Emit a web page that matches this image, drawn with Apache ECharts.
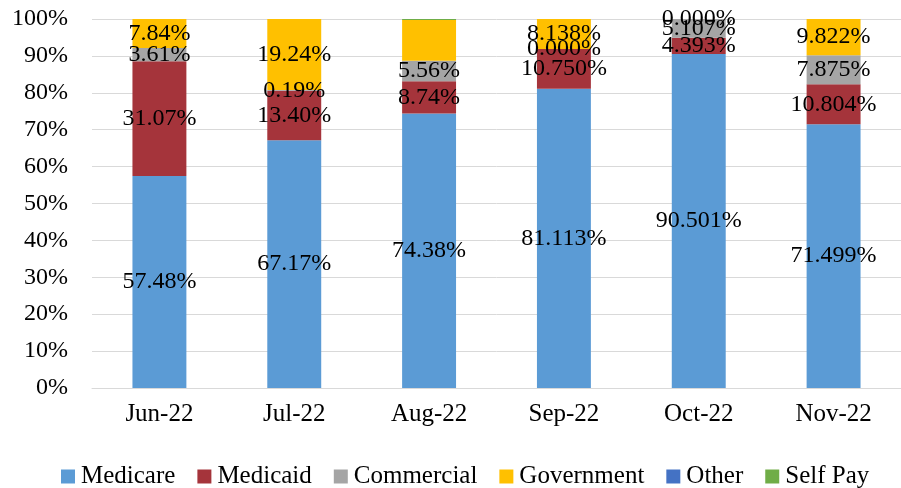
<!DOCTYPE html>
<html>
<head>
<meta charset="utf-8">
<script src="https://cdn.jsdelivr.net/npm/echarts@6/dist/echarts.min.js"></script>
<style>
html,body{margin:0;padding:0;background:#fff;}
#chart{width:901px;height:488px;}
</style>
</head>
<body>
<div id="chart"></div>
<script>
const categories = ['Jun-22','Jul-22','Aug-22','Sep-22','Oct-22','Nov-22'];
const medicare   = [57.48, 67.17, 74.38, 81.113, 90.501, 71.499];
const medicaid   = [31.07, 13.40, 8.74, 10.750, 4.393, 10.804];
const commercial = [3.61, 0.19, 5.56, 0.000, 5.107, 7.875];
const government = [7.84, 19.24, 11.02, 8.138, 0.000, 9.822];
const other      = [0, 0, 0, 0, 0, 0];
const selfPay    = [0, 0, 0.30, 0, 0, 0];
const labelDecimals = [2, 2, 2, 3, 3, 3];
const governmentLabelShown = [true, true, false, true, true, true];
const yTickLabels = ['0%','10%','20%','30%','40%','50%','60%','70%','80%','90%','100%'];

const FONT = 'Liberation Serif';
const FS = 24;

function fmt(p){ return p.value.toFixed(labelDecimals[p.dataIndex]) + '%'; }

function makeSeries(name, values, color, showLabel, shownMask){
  return {
    name: name,
    type: 'bar',
    stack: 'total',
    barWidth: '40%',
    clip: false,
    itemStyle: {color: color},
    label: {
      show: showLabel,
      position: 'inside',
      color: '#000',
      fontFamily: FONT,
      fontSize: FS,
      formatter: fmt
    },
    data: values.map((v, i) => (shownMask && !shownMask[i]) ? {value: v, label: {show: false}} : v)
  };
}

const chart = echarts.init(document.getElementById('chart'), null, {renderer: 'canvas'});
chart.setOption({
  animation: false,
  backgroundColor: '#fff',
  textStyle: {fontFamily: FONT},
  grid: {left: 92, top: 19, width: 813, height: 369, containLabel: false},
  legend: {
    left: 56, top: 459,
    padding: 5,
    itemWidth: 14, itemHeight: 14, itemGap: 22,
    icon: 'rect',
    textStyle: {fontFamily: FONT, fontSize: 25, color: '#000', padding: [0,0,0,1]},
    data: ['Medicare','Medicaid','Commercial','Government','Other','Self Pay']
  },
  xAxis: {
    type: 'category',
    data: categories,
    axisLine: {lineStyle: {color: '#D9D9D9', width: 1}},
    axisTick: {show: false},
    axisLabel: {color: '#000', fontFamily: FONT, fontSize: 25, margin: 14}
  },
  yAxis: {
    type: 'value',
    min: 0, max: 100, interval: 10,
    axisLine: {show: false},
    axisTick: {show: false},
    splitLine: {lineStyle: {color: '#D9D9D9', width: 1}},
    axisLabel: {
      color: '#000', fontFamily: FONT, fontSize: FS, margin: 24,
      formatter: (v) => yTickLabels[Math.round(v / 10)]
    }
  },
  series: [
    makeSeries('Medicare', medicare, '#5B9BD5', true),
    makeSeries('Medicaid', medicaid, '#A5343B', true),
    makeSeries('Commercial', commercial, '#A5A5A5', true),
    makeSeries('Government', government, '#FFC000', true, governmentLabelShown),
    makeSeries('Other', other, '#4472C4', false),
    makeSeries('Self Pay', selfPay, '#70AD47', false)
  ]
});
</script>
</body>
</html>
